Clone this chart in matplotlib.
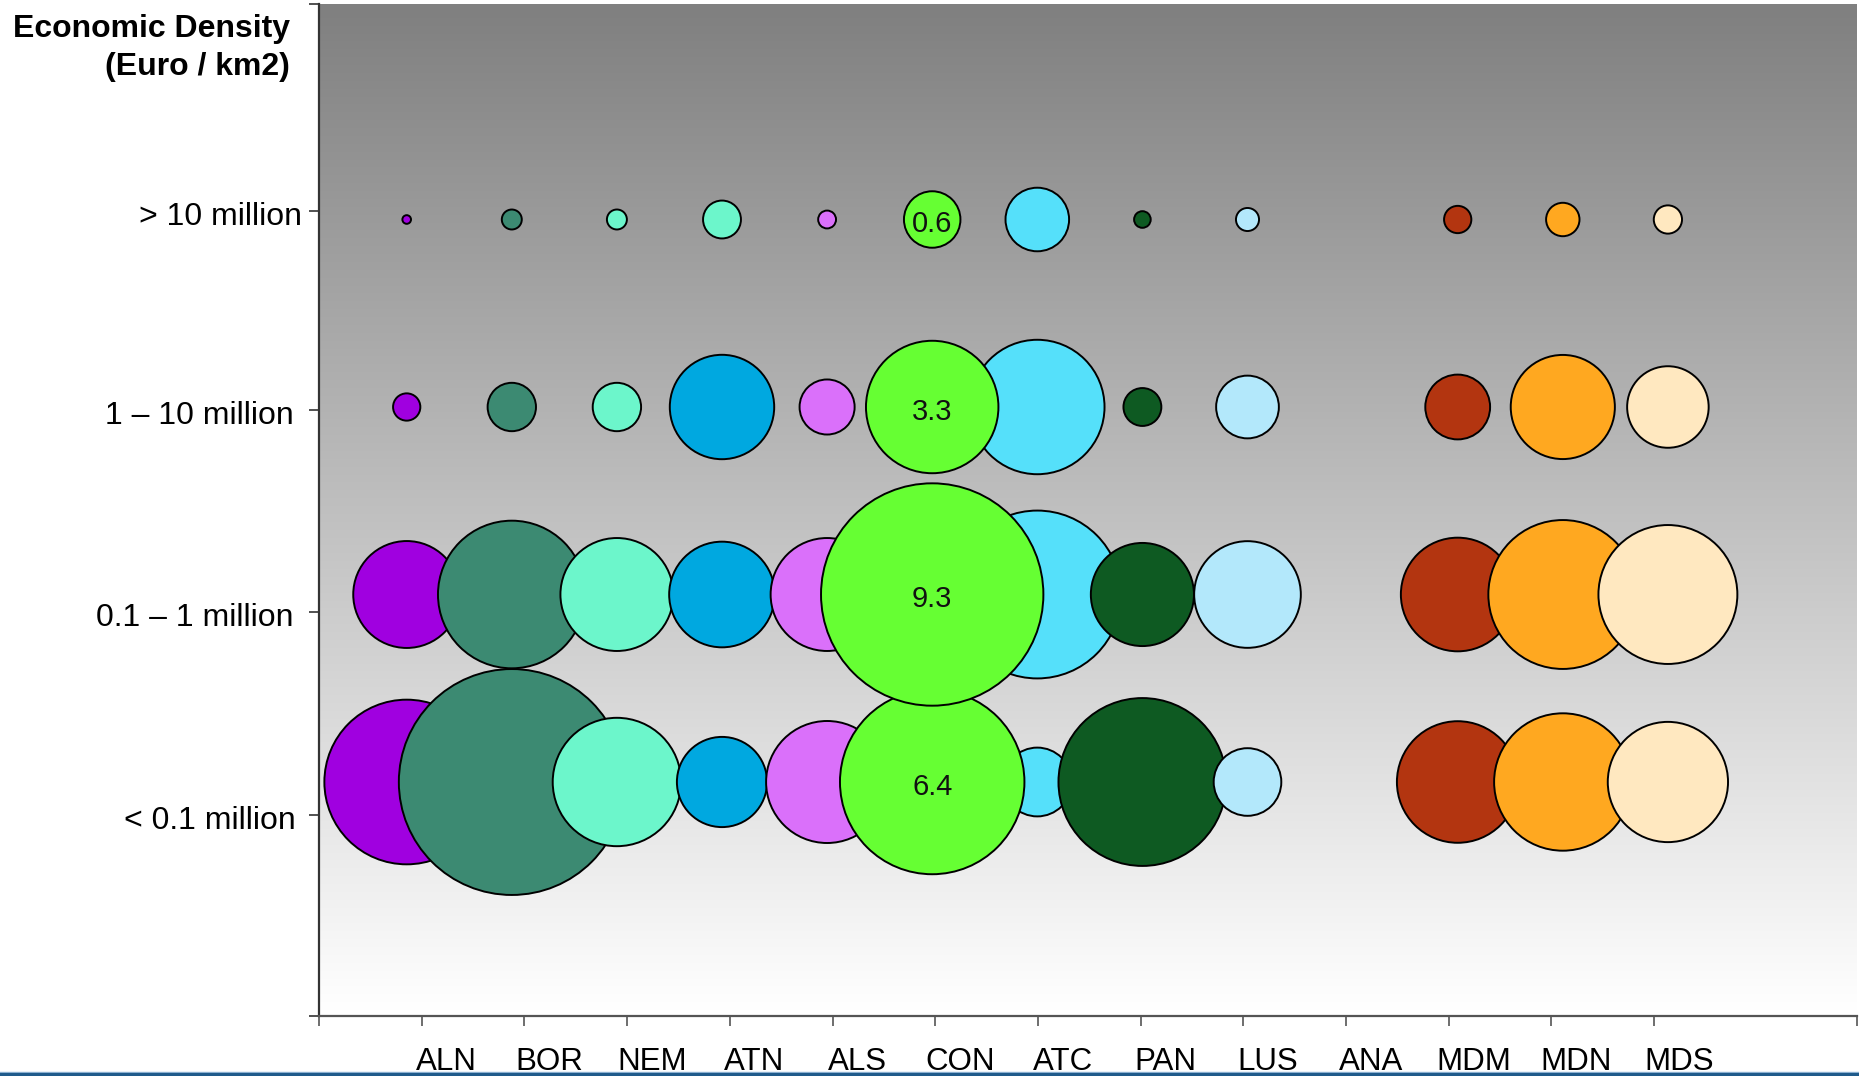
import matplotlib
matplotlib.use("Agg")
import matplotlib.pyplot as plt
import numpy as np
from matplotlib.colors import LinearSegmentedColormap
from matplotlib.lines import Line2D

plt.rcParams['font.family'] = ['Liberation Sans', 'DejaVu Sans']

# ---------------- data ----------------
regions = ['ALN', 'BOR', 'NEM', 'ATN', 'ALS', 'CON', 'ATC', 'PAN', 'LUS', 'ANA', 'MDM', 'MDN', 'MDS']
density_classes = ['> 10 million', '1 – 10 million', '0.1 – 1 million', '< 0.1 million']

# bubble values per region for each economic-density class
gt_10m    = [0.014, 0.075, 0.075, 0.27, 0.06, 0.6, 0.76, 0.052, 0.10, 0, 0.14, 0.21, 0.15]
m1_10m    = [0.14, 0.44, 0.44, 2.05, 0.57, 3.3, 3.4, 0.27, 0.74, 0, 0.79, 2.04, 1.25]
m01_1m    = [2.15, 4.1, 2.4, 2.1, 2.4, 9.3, 5.3, 2.0, 2.14, 0, 2.43, 4.17, 3.63]
lt_01m    = [5.1, 9.6, 3.1, 1.53, 2.8, 6.4, 0.89, 5.3, 0.86, 0, 2.78, 3.55, 2.72]

region_colors = ['#A000E0', '#3C8A72', '#6CF6CB', '#00A8E0', '#DA70FA', '#66FF33',
                 '#55E0FA', '#0E5A22', '#B3E8FB', '#FFFFFF', '#B33510', '#FFA820', '#FFE8C0']
# the top-row ATN bubble is filled mint in the original
top_row_colors = ['#A000E0', '#3C8A72', '#6CF6CB', '#6CF6CB', '#DA70FA', '#66FF33',
                  '#55E0FA', '#0E5A22', '#B3E8FB', '#FFFFFF', '#B33510', '#FFA820', '#FFE8C0']
labelled_region = 'CON'

# ---------------- layout ----------------
W, H = 1859, 1076
fig = plt.figure(figsize=(W / 100, H / 100), dpi=100)
ax_l, ax_r, ax_t, ax_b = 319, 1857, 4, 1016
ax = fig.add_axes([ax_l / W, 1 - ax_b / H, (ax_r - ax_l) / W, (ax_b - ax_t) / H])

# data scale: regions at 0..12, classes at 4..1
x0, dx = 406.7, 105.1
y0, dy = 782.0, 187.5
xlim = ((ax_l - x0) / dx, (ax_r - x0) / dx)
ylim = (1 - (ax_b - y0) / dy, 1 + (y0 - ax_t) / dy)
ax.set_xlim(*xlim)
ax.set_ylim(*ylim)

# gradient background
cmap = LinearSegmentedColormap.from_list('bg', ['#808080', '#FFFFFF'])
ax.imshow(np.linspace(0, 1, 256).reshape(-1, 1), cmap=cmap, aspect='auto',
          extent=(xlim[0], xlim[1], ylim[0], ylim[1]), origin='upper', zorder=0,
          interpolation='bilinear')

# bubbles
class_values = [gt_10m, m1_10m, m01_1m, lt_01m]
class_y = [4, 3, 2, 1]
size_per_unit = 2756.0  # points^2 per value unit
for j, reg in enumerate(regions):
    xs, ys, ss, cs = [], [], [], []
    for ci in [3, 2, 1, 0]:
        v = class_values[ci][j]
        if v > 0:
            xs.append(j)
            ys.append(class_y[ci])
            ss.append(v * size_per_unit)
            cs.append(top_row_colors[j] if ci == 0 else region_colors[j])
    if not xs:
        continue
    z = 30 if reg == labelled_region else 3 + j
    ax.scatter(xs, ys, s=ss, c=cs, edgecolors='black',
               linewidths=1.4, zorder=z)
    if reg == labelled_region:
        for ci in range(4):
            v = class_values[ci][j]
            ax.annotate(f'{v:.1f}', (j, class_y[ci]), xytext=(0, -3.5),
                        textcoords='offset points', ha='center', va='center',
                        fontsize=21, color='#111111', zorder=31)

# spines
for s in ['top', 'right']:
    ax.spines[s].set_visible(False)
ax.spines['left'].set_color('#333333')
ax.spines['left'].set_linewidth(1.6)
ax.spines['bottom'].set_color('#555555')
ax.spines['bottom'].set_linewidth(1.6)
ax.spines['left'].set_zorder(40)
ax.spines['bottom'].set_zorder(40)

# x ticks (Excel-like category boundaries)
xt_start, xt_step = (319 - x0) / dx, 102.7 / dx
xticks = [xt_start + k * xt_step for k in range(14)] + [xlim[1]]
ax.set_xticks(xticks)
ax.set_xticklabels([''] * len(xticks))
ax.tick_params(axis='x', direction='out', length=7.5, width=1.2, color='#555555')

# y ticks
ytick_px = [211, 410, 612, 815]
yticks = [ylim[0]] + [1 + (y0 - p) / dy for p in ytick_px] + [ylim[1]]
ax.set_yticks(yticks)
ax.set_yticklabels([''] * len(yticks))
ax.tick_params(axis='y', direction='out', length=7.5, width=1.2, color='#333333')

# y category labels
ytrans = ax.get_yaxis_transform()
label_right = [302, 294, 294, 296]
for lab, p, xr in zip(density_classes, ytick_px, label_right):
    ax.text((xr - ax_l) / (ax_r - ax_l), 1 + (y0 - (p + 14)) / dy, lab,
            transform=ytrans, ha='right', va='baseline', fontsize=23, color='black',
            clip_on=False)

# x category labels
xtrans = ax.get_xaxis_transform()
for j, reg in enumerate(regions):
    xl = xticks[j + 1] + 0.235
    ax.text(xl, -(1070 - ax_b) / (ax_b - ax_t), reg, transform=xtrans,
            ha='center', va='baseline', fontsize=22.5, color='black', clip_on=False)

# title
fig.text(290 / W, 1 - 37 / H, 'Economic Density', ha='right', va='baseline',
         fontsize=23, fontweight='bold')
fig.text(290 / W, 1 - 75 / H, '(Euro / km2)', ha='right', va='baseline',
         fontsize=23, fontweight='bold')

# bottom rule
fig.add_artist(Line2D([0, 1], [1 - 1071.5 / H] * 2, transform=fig.transFigure,
                      color='#8FB3D3', lw=1.0))
fig.add_artist(Line2D([0, 1], [1 - 1073.5 / H] * 2, transform=fig.transFigure,
                      color='#1F5B8B', lw=2.2))

fig.savefig('out.png', dpi=100)
